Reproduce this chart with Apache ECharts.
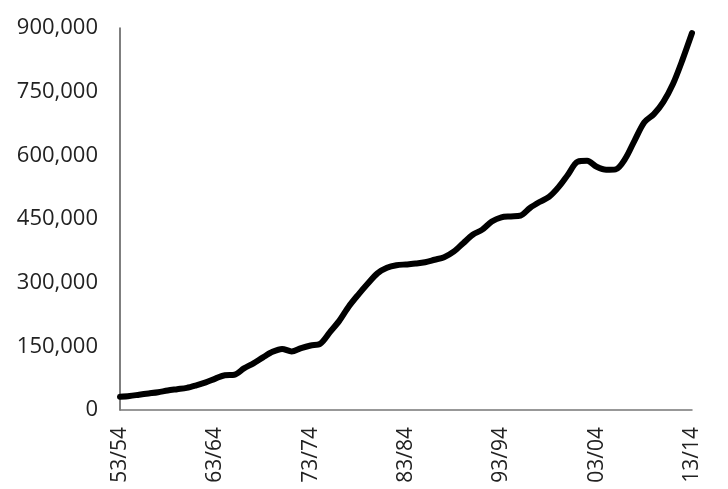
<!DOCTYPE html>
<html>
<head>
<meta charset="utf-8">
<script src="https://cdn.jsdelivr.net/npm/echarts@6/dist/echarts.min.js"></script>
<style>
html,body{margin:0;padding:0;background:#fff;}
#chart{width:728px;height:489px;}
</style>
</head>
<body>
<div id="chart"></div>
<script>
// School years 53/54 ... 13/14
const years = [];
for (let y = 1953; y <= 2013; y++) {
  const a = String(y % 100).padStart(2, '0');
  const b = String((y + 1) % 100).padStart(2, '0');
  years.push(a + '/' + b);
}
const values = [
  31000, 33000, 36000, 39000, 42000, 46000, 49000, 52000, 58000, 65000,
  74000, 82000, 83000, 98000, 110000, 124000, 137000, 144000, 138000, 146000,
  152000, 156000, 183000, 210000, 244000, 272000, 298000, 322000, 335000, 341000,
  343000, 345000, 348000, 354000, 360000, 373000, 393000, 413000, 425000, 444000,
  454000, 456000, 458000, 476000, 490000, 502000, 525000, 555000, 585000, 587000,
  573000, 566000, 567000, 592000, 636000, 678000, 697000, 726000, 768000, 825000,
  888000
];
const yTicks = { min: 0, max: 900000, interval: 150000 };

const chart = echarts.init(document.getElementById('chart'));
chart.setOption({
  animation: false,
  backgroundColor: '#ffffff',
  grid: { left: 120, right: 36, top: 28, bottom: 79, containLabel: false },
  xAxis: {
    type: 'category',
    data: years,
    boundaryGap: false,
    axisLine: { show: true, lineStyle: { color: '#777', width: 1.5 } },
    axisTick: { show: false },
    axisLabel: {
      interval: 9,
      rotate: 90,
      margin: 17,
      color: '#222',
      fontFamily: 'Open Sans',
      fontSize: 21
    },
    splitLine: { show: false }
  },
  yAxis: {
    type: 'value',
    min: yTicks.min,
    max: yTicks.max,
    interval: yTicks.interval,
    axisLine: { show: true, lineStyle: { color: '#555', width: 1.5 } },
    axisTick: { show: false },
    axisLabel: {
      margin: 22,
      color: '#222',
      fontFamily: 'Open Sans',
      fontSize: 22,
      formatter: v => v.toLocaleString('en-US')
    },
    splitLine: { show: false }
  },
  series: [{
    type: 'line',
    data: values,
    smooth: 0.3,
    showSymbol: false,
    lineStyle: { color: '#000', width: 6, cap: 'round', join: 'round' }
  }]
});
</script>
</body>
</html>
